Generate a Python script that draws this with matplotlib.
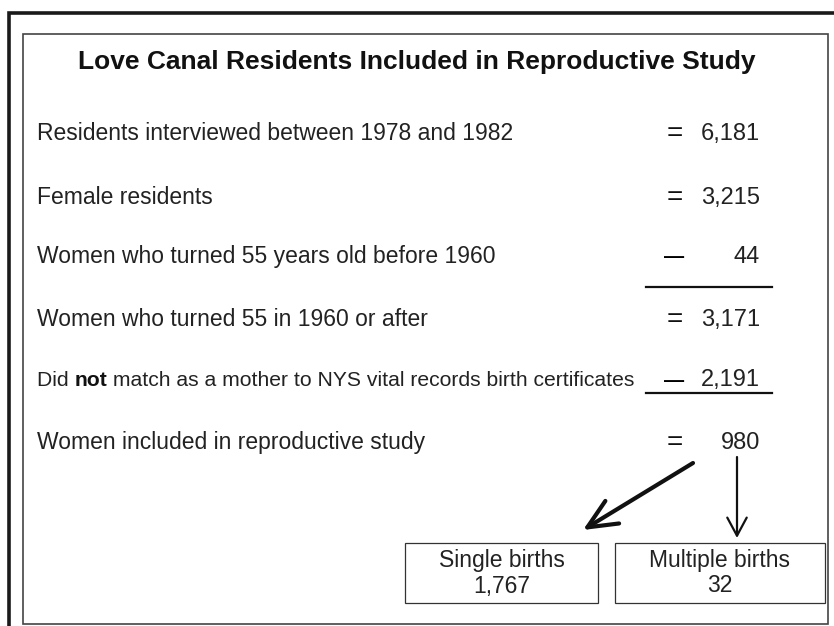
import matplotlib
matplotlib.use("Agg")
import matplotlib.pyplot as plt
from matplotlib import font_manager

# Love Canal reproductive study flow summary, drawn as text on a blank canvas.

title = "Love Canal Residents Included in Reproductive Study"
row_labels = [
    "Residents interviewed between 1978 and 1982",
    "Female residents",
    "Women who turned 55 years old before 1960",
    "Women who turned 55 in 1960 or after",
    None,  # the "Did not match" row has a bold word, drawn separately
    "Women included in reproductive study",
]
row_ops = ["=", "=", "—", "=", "—", "="]
row_values = [6181, 3215, 44, 3171, 2191, 980]
underlined_rows = [2, 4]
split_label = ["Did ", "not", " match as a mother to NYS vital records birth certificates"]
box_labels = ["Single births", "Multiple births"]
box_values = [1767, 32]

names = {f.name for f in font_manager.fontManager.ttflist}
body_font = "Liberation Sans" if "Liberation Sans" in names else "DejaVu Sans"

W, H = 834, 626
fig = plt.figure(figsize=(W / 100, H / 100), dpi=100)
ax = fig.add_axes([0, 0, 1, 1])
ax.set_xlim(0, W)
ax.set_ylim(H, 0)
ax.axis("off")

# outer heavy frame (only left and top visible) and inner thin frame
ax.plot([9.5, 9.5, W], [H, 13, 13], color="#1a1a1a", lw=2.6, solid_joinstyle="miter")
ax.add_patch(plt.Rectangle((23, 34), 805, 590, fill=False, ec="#444444", lw=1.2))

ax.text(417, 69, title, fontsize=19, fontweight="bold", family=body_font,
        ha="center", va="baseline", color="#111111")

row_y = [134, 198, 257, 320, 380, 443]
fs = 16.5
for i, (lab, op, val) in enumerate(zip(row_labels, row_ops, row_values)):
    y = row_y[i]
    if lab is None:
        # this row is set a little smaller in the original
        t = ax.text(37, y, split_label[0], fontsize=15.2, family=body_font,
                    va="center", color="#222222")
        t = ax.annotate(split_label[1], xy=(1, 0), xycoords=t, va="bottom",
                        fontsize=15.2, family=body_font, fontweight="bold", color="#111111")
        ax.annotate(split_label[2], xy=(1, 0), xycoords=t, va="bottom",
                    fontsize=15.2, family=body_font, color="#222222")
    else:
        ax.text(37, y, lab, fontsize=fs, family=body_font, va="center", color="#222222")
    if op == "=":
        ax.text(675, y, op, fontsize=20, family=body_font, ha="center", va="center",
                color="#111111")
    else:
        ax.text(674, y, op, fontsize=14.5, family=body_font, ha="center", va="center",
                color="#000000", fontweight="bold")
    ax.text(760, y, f"{val:,}", fontsize=17, family=body_font, ha="right",
            va="center", color="#222222")
    if i in underlined_rows:
        ly = y + 30 if i == 2 else y + 13
        ax.plot([646, 772], [ly, ly], color="#111111", lw=1.6)

# arrows from the final count down to the two boxes
ax.annotate("", xy=(583, 530), xytext=(693, 463),
            arrowprops=dict(arrowstyle="->,head_length=2.1,head_width=0.95",
                            lw=3.0, color="#111111", shrinkA=0, shrinkB=0))
ax.annotate("", xy=(737, 538), xytext=(737, 457),
            arrowprops=dict(arrowstyle="->,head_length=1.3,head_width=0.7",
                            lw=1.6, color="#111111", shrinkA=0, shrinkB=0))

box_x = [(405, 598), (615, 825)]
for (x0, x1), lab, val in zip(box_x, box_labels, box_values):
    ax.add_patch(plt.Rectangle((x0, 543), x1 - x0, 60, fill=False, ec="#333333", lw=0.9))
    ax.text((x0 + x1) / 2, 560, lab, fontsize=fs, family=body_font, ha="center",
            va="center", color="#222222")
    ax.text((x0 + x1) / 2, 586, f"{val:,}", fontsize=fs, family=body_font, ha="center",
            va="center", color="#222222")

fig.savefig("out.png", dpi=100)
